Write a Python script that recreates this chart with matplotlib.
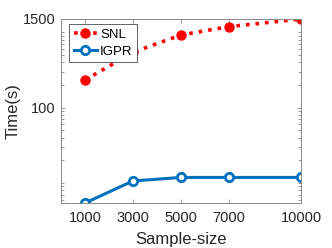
import matplotlib
matplotlib.use("Agg")
import matplotlib.pyplot as plt
import numpy as np

sample_size = [1000, 3000, 5000, 7000, 10000]
snl_time = [232, 542, 921, 1187, 1500]
igpr_time = [5.4, 10.6, 11.8, 11.8, 11.8]
x_ticks = [1000, 3000, 5000, 7000, 10000]
y_ticks = [100, 1500]
y_ticklabels = ["100", "1500"]

plt.rcParams['font.family'] = ['Liberation Sans', 'DejaVu Sans']

fig = plt.figure(figsize=(3.32, 2.48), dpi=100)
ax = fig.add_axes([61/332, 45/248, 240/332, 184/248])

ax.plot(sample_size, snl_time, linestyle=':', color='#ff0000', linewidth=2.6,
        marker='o', markersize=6.5, markerfacecolor='#ff0000', markeredgecolor='#ff0000',
        label='SNL')
ax.plot(sample_size, igpr_time, linestyle='-', color='#0072bd', linewidth=2.2,
        marker='o', markersize=6, markerfacecolor='white', markeredgecolor='#0072bd',
        markeredgewidth=2.0, label='IGPR')

ax.set_yscale('log')
ax.set_xlim(0, 10000)
ax.set_ylim(min(igpr_time), max(snl_time))
ax.set_xticks(x_ticks)
ax.set_xticklabels([str(v) for v in x_ticks])
ax.set_yticks(y_ticks)
ax.set_yticklabels(y_ticklabels)
minor = [k * 10.0**n for n in range(0, 4) for k in range(1, 10)]
minor = [m for m in minor if 5 < m < 1500 and m != 100]
ax.set_yticks(minor, minor=True)
ax.yaxis.set_minor_formatter(matplotlib.ticker.NullFormatter())

for sp in ax.spines.values():
    sp.set_color('#8a8a8a')
    sp.set_linewidth(0.7)
ax.tick_params(axis='both', which='both', direction='in', top=True, right=True,
               color='#8a8a8a', labelcolor='#262626', labelsize=10.5, width=0.6)
ax.tick_params(axis='both', which='major', length=3)
ax.tick_params(axis='y', which='minor', length=2)
ax.tick_params(axis='x', pad=6)
ax.tick_params(axis='y', pad=4)

ax.set_xlabel('Sample-size', fontsize=12, color='#262626')
ax.set_ylabel('Time(s)', fontsize=12, color='#262626')
ax.xaxis.set_label_coords(0.5, -0.158)
ax.yaxis.set_label_coords(-0.168, 0.5)

leg = ax.legend(loc='upper left', bbox_to_anchor=(0.033, 0.973), fontsize=9.5,
                frameon=True, fancybox=False, framealpha=1, edgecolor='#262626',
                handlelength=1.8, handletextpad=0.2, borderpad=0.35, labelspacing=0.35,
                borderaxespad=0)
leg.get_frame().set_linewidth(0.5)

fig.savefig('out.png', dpi=100)
